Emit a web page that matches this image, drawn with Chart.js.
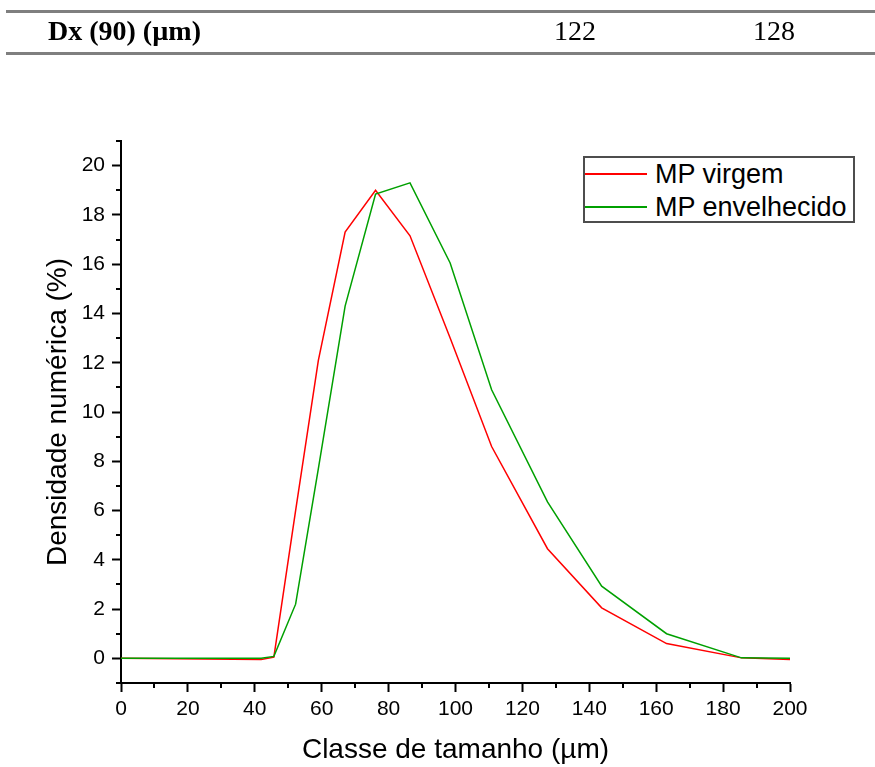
<!DOCTYPE html>
<html>
<head>
<meta charset="utf-8">
<script src="https://cdn.jsdelivr.net/npm/chart.js"></script>
<style>
    html, body { margin: 0; padding: 0; background: #fff; }
    #page { position: relative; width: 875px; height: 767px; overflow: hidden; }
    #chart { position: absolute; left: 0; top: 0; }
    .rule { position: absolute; left: 6px; width: 869px; height: 3px; background: #7f7f7f; }
    .cell { position: absolute; font-family: "Liberation Serif", "Times New Roman", serif; font-size: 28px; line-height: 30px; color: #000; white-space: nowrap; }
    #legend { position: absolute; left: 583px; top: 156px; width: 268px; height: 63px; border: 2px solid #4d4d4d; background: #fff; }
    .item { position: absolute; left: 0; font-family: "Liberation Sans", Arial, sans-serif; font-size: 27px; line-height: 30px; color: #000; white-space: nowrap; }
    .item span.swatch { position: absolute; left: 0; width: 62px; height: 2px; }
    .item span.label { position: absolute; left: 70px; }
</style>
</head>
<body>
<div id="page">
    <canvas id="chart" width="875" height="767"></canvas>

    <!-- bit of the table above the figure -->
    <div class="rule" style="top:10px"></div>
    <div class="cell" style="left:48px; top:16px; font-weight:bold">Dx (90) (µm)</div>
    <div class="cell" style="left:554px; top:16px">122</div>
    <div class="cell" style="left:753px; top:16px">128</div>
    <div class="rule" style="top:52px"></div>

    <div id="legend">
        <div class="item" style="top:1px"><span class="swatch" style="top:14px; background:#ff0000"></span><span class="label">MP virgem</span></div>
        <div class="item" style="top:34px"><span class="swatch" style="top:14px; background:#00a000"></span><span class="label">MP envelhecido</span></div>
    </div>
</div>

<script>
// Size classes (µm) and number density (%)
const sizeClasses = [0, 41.9, 45.7, 52.2, 59.0, 67.0, 76.1, 86.4, 98.4, 110.8, 127.5, 143.7, 163.1, 185.5, 200];
const mpVirgem = [0, -0.05, 0.05, 6.0, 12.1, 17.3, 19.0, 17.15, 13.0, 8.6, 4.45, 2.05, 0.6, 0.02, -0.05];
const mpEnvelhecido = [0, 0, 0.08, 2.2, 7.7, 14.3, 18.85, 19.3, 16.05, 10.9, 6.35, 2.93, 1.0, 0.02, 0.0];

const seriesNames = ['MP virgem', 'MP envelhecido'];
const xTickValues = [0, 20, 40, 60, 80, 100, 120, 140, 160, 180, 200];
const yTickValues = [0, 2, 4, 6, 8, 10, 12, 14, 16, 18, 20];
const xTitle = 'Classe de tamanho (µm)';
const yTitle = 'Densidade numérica (%)';

const toPoints = (vals) => vals.map((v, i) => ({ x: sizeClasses[i], y: v }));

// short minor ticks between the labelled ones
const minorTicks = {
    id: 'minorTicks',
    afterDraw(chart) {
        const { ctx, scales: { x, y } } = chart;
        ctx.save();
        ctx.strokeStyle = '#000';
        ctx.lineWidth = 2;
        for (let v = 10; v < 200; v += 20) {
            const px = Math.round(x.getPixelForValue(v));
            ctx.beginPath();
            ctx.moveTo(px, x.top);
            ctx.lineTo(px, x.top + 5);
            ctx.stroke();
        }
        for (let v = -1; v <= 21; v += 2) {
            const py = Math.round(y.getPixelForValue(v));
            ctx.beginPath();
            ctx.moveTo(y.right - 5, py);
            ctx.lineTo(y.right, py);
            ctx.stroke();
        }
        ctx.restore();
    }
};

const axisFont = { family: '"Liberation Sans", Arial, sans-serif', size: 21 };
const titleFont = { family: '"Liberation Sans", Arial, sans-serif', size: 28 };

new Chart(document.getElementById('chart'), {
    type: 'line',
    data: {
        datasets: [{
            label: seriesNames[0],
            data: toPoints(mpVirgem),
            borderColor: '#ff0000',
            borderWidth: 1.5,
            pointRadius: 0,
            tension: 0,
            order: 1
        }, {
            label: seriesNames[1],
            data: toPoints(mpEnvelhecido),
            borderColor: '#00a000',
            borderWidth: 1.5,
            pointRadius: 0,
            tension: 0,
            order: 0
        }]
    },
    options: {
        responsive: false,
        animation: false,
        layout: { padding: { top: 141, right: 85, left: 0, bottom: 0 } },
        plugins: {
            legend: { display: false },
            tooltip: { enabled: false }
        },
        scales: {
            x: {
                type: 'linear',
                min: 0,
                max: 200,
                afterFit(scale) { scale.height = 84; },
                afterBuildTicks(scale) { scale.ticks = xTickValues.map(v => ({ value: v })); },
                ticks: { color: '#000', font: axisFont, padding: 5, maxRotation: 0, autoSkip: false },
                grid: { drawOnChartArea: false, drawTicks: true, tickLength: 9, tickWidth: 2, tickColor: '#000' },
                border: { display: true, color: '#000', width: 2 },
                title: { display: true, text: xTitle, color: '#000', font: titleFont, padding: { top: 0, bottom: 0 } }
            },
            y: {
                type: 'linear',
                min: -1,
                max: 21,
                afterFit(scale) { scale.width = 121; },
                afterBuildTicks(scale) { scale.ticks = yTickValues.map(v => ({ value: v })); },
                ticks: { color: '#000', font: axisFont, padding: 7, autoSkip: false },
                grid: { drawOnChartArea: false, drawTicks: true, tickLength: 9, tickWidth: 2, tickColor: '#000' },
                border: { display: true, color: '#000', width: 2 },
                title: { display: true, text: yTitle, color: '#000', font: titleFont, padding: { top: 41, bottom: 0 } }
            }
        }
    },
    plugins: [minorTicks]
});
</script>
</body>
</html>
